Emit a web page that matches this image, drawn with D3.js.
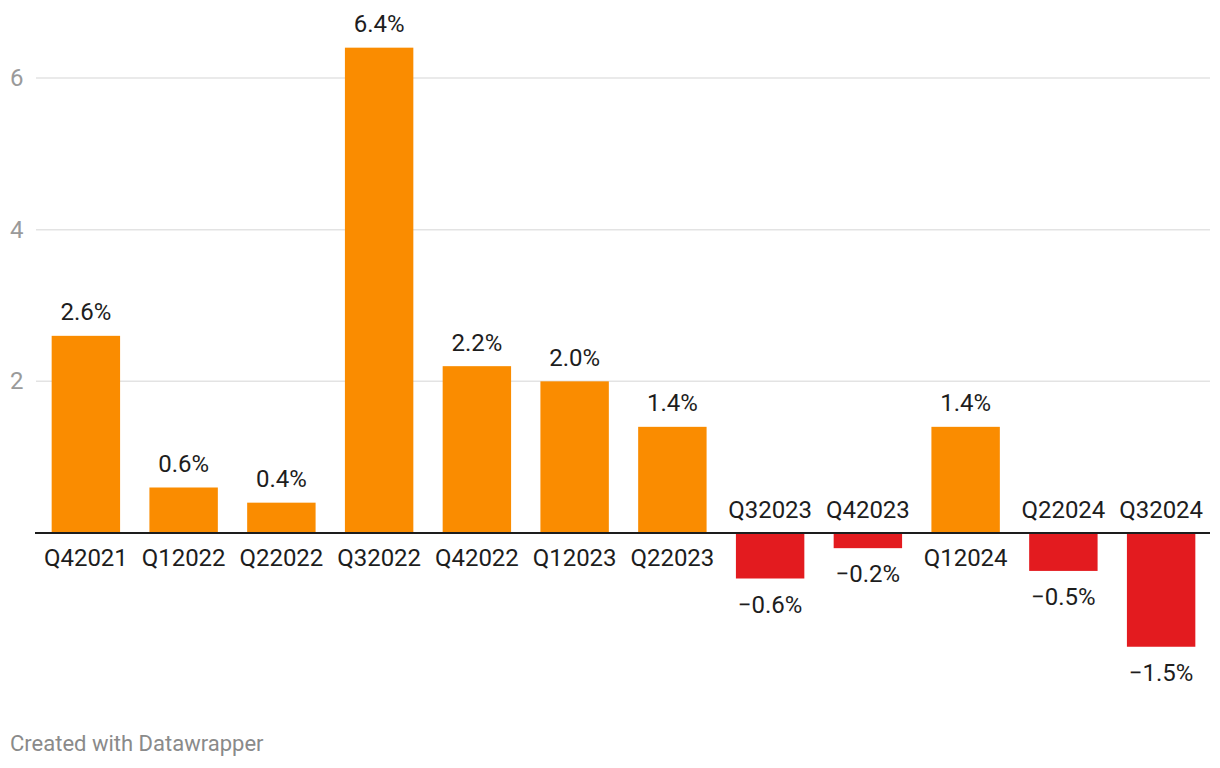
<!DOCTYPE html>
<html><head><meta charset="utf-8">
<script src="https://cdn.jsdelivr.net/npm/d3@7"></script>
<style>
body{margin:0;background:#fff;font-family:Roboto,"Noto Sans",sans-serif;}
</style></head><body>
<svg id="c" width="1220" height="768"></svg>
<script>
const categories=["Q42021","Q12022","Q22022","Q32022","Q42022","Q12023","Q22023","Q32023","Q42023","Q12024","Q22024","Q32024"];
const values=[2.6,0.6,0.4,6.4,2.2,2.0,1.4,-0.6,-0.2,1.4,-0.5,-1.5];
const yTicks=[2,4,6];
const posColor="#fa8c00", negColor="#e31b1f";

const svg=d3.select("#c");
const x=d3.scaleBand().domain(categories).range([37,1210]).paddingInner(0.3).paddingOuter(0.15);
const y=d3.scaleLinear().domain([0,6]).range([533,78]);

// grid
const g=svg.append("g");
g.selectAll("line.grid").data(yTicks).join("line")
 .attr("x1",36).attr("x2",1210).attr("y1",d=>y(d)).attr("y2",d=>y(d))
 .attr("stroke","#e3e3e3").attr("stroke-width",1.5);
g.selectAll("text.tick").data(yTicks).join("text")
 .attr("x",10).attr("y",d=>y(d)+8)
 .attr("font-size",24).attr("fill","#9a9a9a").text(d=>d);

// bars
svg.selectAll("rect.bar").data(values).join("rect")
 .attr("x",(d,i)=>x(categories[i])).attr("width",x.bandwidth())
 .attr("y",d=>y(Math.max(0,d))).attr("height",d=>Math.abs(y(d)-y(0)))
 .attr("fill",d=>d>=0?posColor:negColor);

// baseline
svg.append("line").attr("x1",35).attr("x2",1210).attr("y1",y(0)).attr("y2",y(0))
 .attr("stroke","#1d1d1d").attr("stroke-width",2);

const fmt=d=>(d<0?"\u2212":"")+Math.abs(d).toFixed(1)+"%";
// value labels
svg.selectAll("text.val").data(values).join("text")
 .attr("x",(d,i)=>x(categories[i])+x.bandwidth()/2)
 .attr("y",d=>d>=0?y(d)-15.5:y(d)+34)
 .attr("text-anchor","middle").attr("font-size",24).attr("fill","#1d1d1d").text(fmt);
// category labels
svg.selectAll("text.cat").data(values).join("text")
 .attr("x",(d,i)=>x(categories[i])+x.bandwidth()/2)
 .attr("y",d=>d>=0?y(0)+33:y(0)-15.5)
 .attr("text-anchor","middle").attr("font-size",24).attr("fill","#1d1d1d").text((d,i)=>categories[i]);

svg.append("text").attr("x",10).attr("y",751)
 .attr("font-size",22).attr("fill","#8a8a8a").text("Created with Datawrapper");
</script></body></html>
